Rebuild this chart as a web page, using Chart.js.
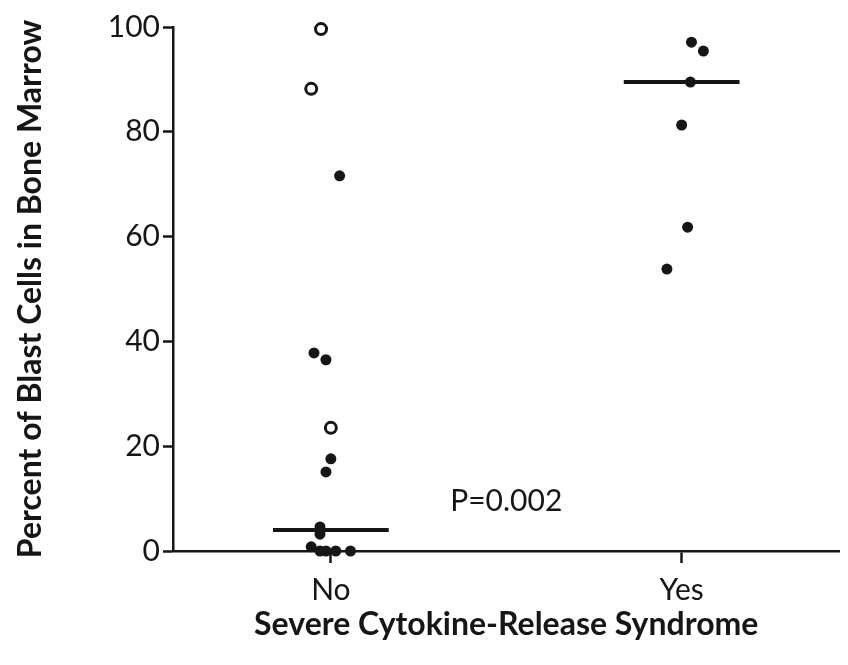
<!DOCTYPE html>
<html>
<head>
<meta charset="utf-8">
<script src="https://cdn.jsdelivr.net/npm/chart.js@4"></script>
<style>
  body { margin: 0; background: #fff; }
</style>
</head>
<body>
<canvas id="myChart" width="848" height="665"></canvas>
<script>
// --- data ---
const categories = ['No', 'Yes'];

// No group, open circles (x = category position + jitter)
const noOpenX = [0.972, 0.944, 1.0];
const noOpenY = [99.6, 88.2, 23.5];

// No group, filled circles
const noFilledX = [1.025, 0.952, 0.986, 1.0, 0.986, 0.969, 0.969, 0.944, 0.969, 0.986, 1.014, 1.056];
const noFilledY = [71.6, 37.8, 36.5, 17.6, 15.1, 4.6, 3.2, 0.8, 0, 0, 0, 0];

// Yes group, filled circles
const yesX = [2.028, 2.062, 2.025, 2.0, 2.017, 1.958];
const yesY = [97.1, 95.4, 89.5, 81.3, 61.8, 53.8];

// medians
const medians = [4.0, 89.5];
const medianHalf = 0.165;

const yTicks = [0, 20, 40, 60, 80, 100];
const pText = 'P=0.002';
const pPos = { x: 1.5, y: 9.4 };

const ink = '#161616';
const fontFam = 'Lato, "Open Sans", sans-serif';

function pts(xs, ys) {
    return xs.map((x, i) => ({ x: x, y: ys[i] }));
}

const medianSets = medians.map((m, i) => ({
    type: 'line',
    data: [{ x: i + 1 - medianHalf, y: m }, { x: i + 1 + medianHalf, y: m }],
    borderColor: ink,
    borderWidth: 4,
    pointRadius: 0,
    clip: false
}));

// text "P=0.002" placed through the scales
const pLabel = {
    id: 'pLabel',
    afterDatasetsDraw(chart) {
        const { ctx, scales } = chart;
        ctx.save();
        ctx.fillStyle = ink;
        ctx.font = '30px ' + fontFam;
        ctx.textAlign = 'center';
        ctx.textBaseline = 'middle';
        ctx.fillText(pText, scales.x.getPixelForValue(pPos.x), scales.y.getPixelForValue(pPos.y));
        ctx.restore();
    }
};

const ctx = document.getElementById('myChart').getContext('2d');
new Chart(ctx, {
    type: 'scatter',
    data: {
        datasets: [
            ...medianSets,
            {
                label: 'No (open)',
                data: pts(noOpenX, noOpenY),
                pointRadius: 5.5,
                pointBackgroundColor: '#fff',
                pointBorderColor: ink,
                pointBorderWidth: 3,
                clip: false
            },
            {
                label: 'No',
                data: pts(noFilledX, noFilledY),
                pointRadius: 5.5,
                pointBackgroundColor: ink,
                pointBorderWidth: 0,
                clip: false
            },
            {
                label: 'Yes',
                data: pts(yesX, yesY),
                pointRadius: 5.5,
                pointBackgroundColor: ink,
                pointBorderWidth: 0,
                clip: false
            }
        ]
    },
    options: {
        responsive: false,
        animation: false,
        layout: { padding: { top: 27, right: 0, left: 0, bottom: 0 } },
        plugins: { legend: { display: false }, tooltip: { enabled: false } },
        scales: {
            x: {
                type: 'linear',
                min: 0.55,
                max: 2.45,
                afterBuildTicks: s => { s.ticks = categories.map((c, i) => ({ value: i + 1 })); },
                afterFit: s => { s.height = 114; },
                ticks: {
                    callback: v => categories[v - 1],
                    color: ink,
                    font: { family: fontFam, size: 30 },
                    padding: 9
                },
                grid: { drawOnChartArea: false, drawTicks: true, tickLength: 12, tickColor: ink, tickWidth: 2.5 },
                border: { display: true, color: ink, width: 2.5 },
                title: {
                    display: true,
                    text: 'Severe Cytokine-Release Syndrome',
                    color: ink,
                    font: { family: fontFam, size: 32, weight: 'bold' },
                    padding: { top: 0, bottom: 21 }
                }
            },
            y: {
                min: 0,
                max: 100,
                afterBuildTicks: s => { s.ticks = yTicks.map(v => ({ value: v })); },
                afterFit: s => { s.width = 173; },
                ticks: {
                    color: ink,
                    font: { family: fontFam, size: 30 },
                    padding: 3
                },
                grid: { drawOnChartArea: false, drawTicks: true, tickLength: 10, tickColor: ink, tickWidth: 2.5 },
                border: { display: true, color: ink, width: 2.5 },
                title: {
                    display: true,
                    text: 'Percent of Blast Cells in Bone Marrow',
                    color: ink,
                    font: { family: fontFam, size: 32, weight: 'bold' },
                    padding: { top: 11, bottom: 0 }
                }
            }
        }
    },
    plugins: [pLabel]
});
</script>
</body>
</html>
